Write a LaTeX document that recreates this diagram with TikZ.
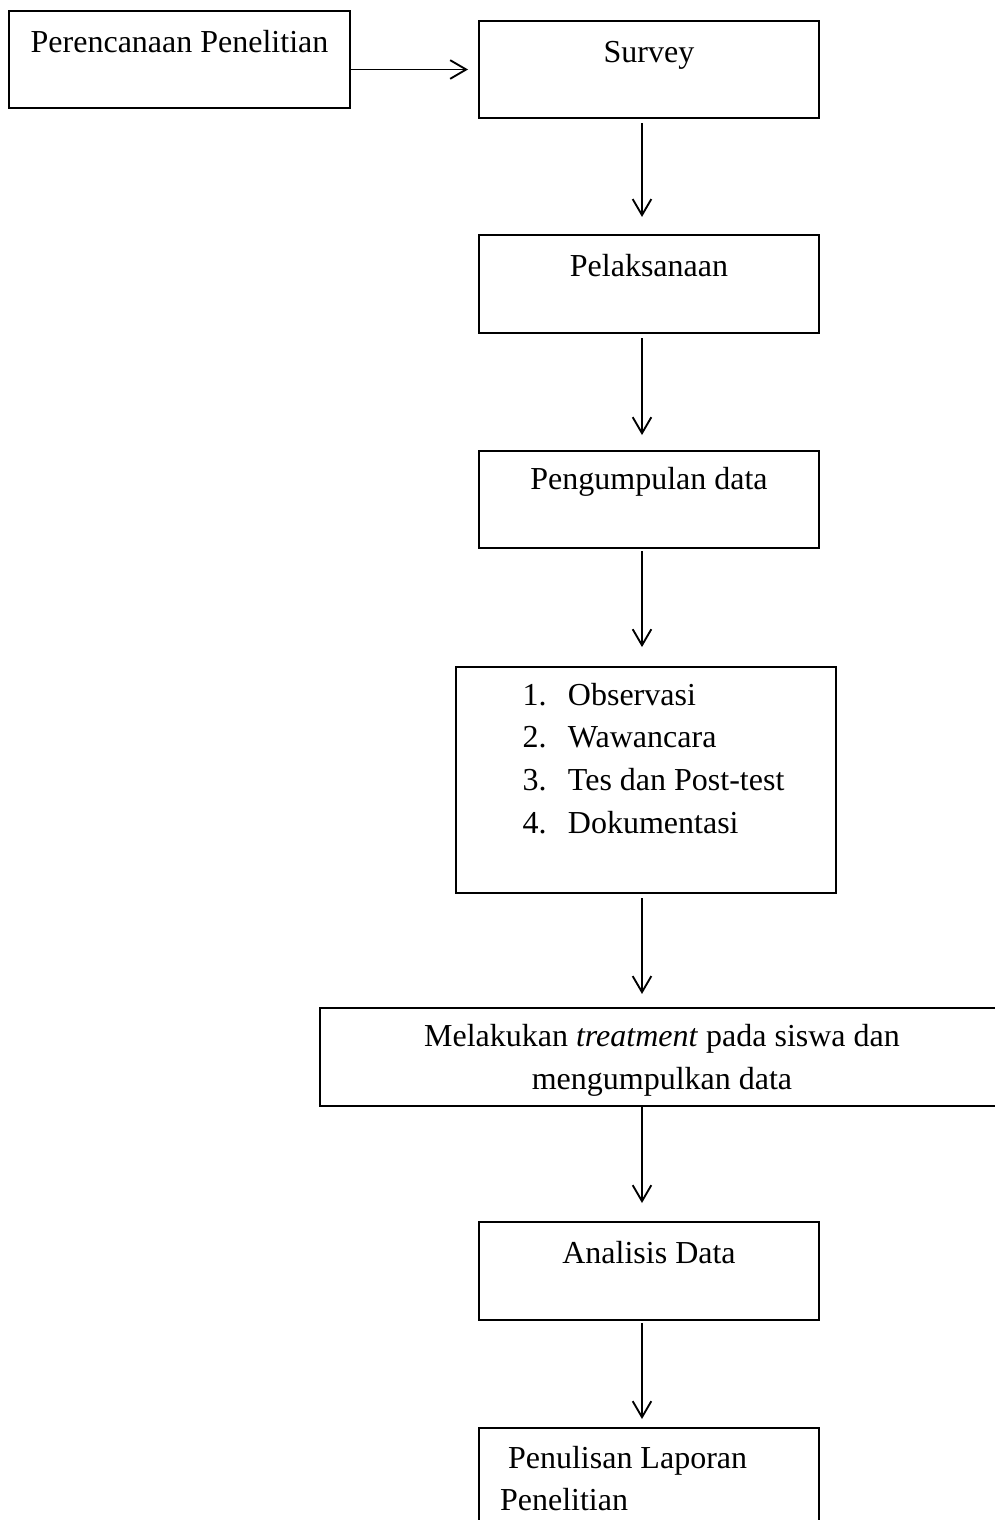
\documentclass[tikz,border=0pt]{standalone}
\usepackage{fontspec}
\setmainfont{Liberation Serif}
\usepackage{tikz}
\usetikzlibrary{arrows.meta}
\newcommand{\listrow}[2]{\hspace*{25pt}\makebox[17pt][l]{#1}#2}
\tikzset{
  stepbox/.style={draw, line width=0.75pt, inner xsep=0pt, inner ysep=0pt,
    minimum width=127.5pt, text height=15.4pt, text depth=21pt,
    font=\fontsize{12}{16}\selectfont},
  flow/.style={-{Straight Barb[length=6pt,width=7pt]}, line width=0.7pt,
    shorten <=1.5pt, shorten >=6pt}
}

\begin{document}
\begin{tikzpicture}[x=0.375pt, y=-0.375pt]
  \useasboundingbox (0,0) rectangle (995,1520);

  % Boxes of the flow
  \node[stepbox, minimum width=127.9pt, text height=15.75pt, text depth=20.65pt] (plan) at (179.5,59.5) {Perencanaan Penelitian};
  \node[stepbox] (survey) at (649,69.5) {Survey};
  \node[stepbox, text depth=21.35pt] (pelak) at (649,284) {Pelaksanaan};
  \node[stepbox, text height=14.6pt, text depth=21.8pt] (kumpul) at (649,499.5) {Pengumpulan data};
  \node[stepbox, text width=142.5pt, align=flush left, text height=14.25pt, text depth=70.5pt] (teknik) at (646,780)
    {\listrow{1.}{Observasi}\\ \listrow{2.}{Wawancara}\\ \listrow{3.}{Tes dan Post-test}\\ \listrow{4.}{Dokumentasi}};
  \node[stepbox, text width=256.5pt, align=flush center, text height=14.6pt, text depth=22.15pt] (treat) at (662,1057)
    {Melakukan \emph{treatment} pada siswa dan\\mengumpulkan data};
  \node[stepbox, text depth=21.35pt] (analisis) at (649,1271) {Analisis Data};
  \node[stepbox, inner xsep=7.9pt, text width=111.7pt, align=flush left, text height=15pt, text depth=21.75pt] (tulis) at (649,1477)
    {\ Penulisan Laporan\\Penelitian};

  % Connectors
  \coordinate (spine) at (642,0);
  \draw[flow, shorten <=0pt, shorten >=3.75pt] (plan.east |- survey.west) -- (survey.west);
  \draw[flow, shorten >=6.4pt] (survey.south -| spine) -- (pelak.north -| spine);
  \draw[flow, shorten >=5.6pt] (pelak.south -| spine) -- (kumpul.north -| spine);
  \draw[flow, shorten <=0.75pt, shorten >=7.1pt] (kumpul.south -| spine) -- (teknik.north -| spine);
  \draw[flow, shorten >=4.9pt] (teknik.south -| spine) -- (treat.north -| spine);
  \draw[flow, shorten <=0pt, shorten >=6.75pt] (treat.south -| spine) -- (analisis.north -| spine);
  \draw[flow, shorten <=0.75pt, shorten >=3pt] (analisis.south -| spine) -- (tulis.north -| spine);
\end{tikzpicture}
\end{document}
